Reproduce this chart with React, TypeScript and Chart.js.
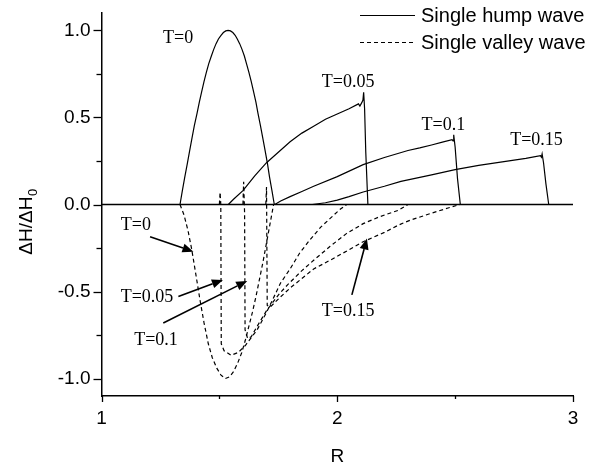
import React, { useEffect, useRef } from "react";
import { Chart, registerables } from "chart.js";

Chart.register(...registerables);

// ---- data: [R, ΔH/ΔH0] ----
const humpT0: number[][] = [
  [1.333, 0], [1.343, 0.08], [1.353, 0.156], [1.364, 0.235], [1.374, 0.31], [1.384, 0.383],
  [1.394, 0.454], [1.405, 0.522], [1.415, 0.588], [1.425, 0.649], [1.435, 0.707], [1.445, 0.76],
  [1.455, 0.809], [1.466, 0.853], [1.476, 0.891], [1.486, 0.924], [1.496, 0.951], [1.507, 0.972],
  [1.517, 0.988], [1.527, 0.997], [1.537, 1.0], [1.547, 0.997], [1.557, 0.988], [1.567, 0.972],
  [1.576, 0.951], [1.586, 0.924], [1.596, 0.891], [1.606, 0.853], [1.615, 0.809], [1.625, 0.76],
  [1.635, 0.707], [1.645, 0.649], [1.655, 0.588], [1.664, 0.522], [1.674, 0.454], [1.684, 0.383],
  [1.694, 0.309], [1.704, 0.235], [1.713, 0.156], [1.723, 0.08], [1.733, 0],
];
const humpT005: number[][] = [
  [1.538, 0], [1.56, 0.03], [1.6, 0.08], [1.65, 0.165], [1.7, 0.24], [1.75, 0.3], [1.8, 0.36],
  [1.85, 0.41], [1.9, 0.45], [1.95, 0.49], [2.0, 0.52], [2.05, 0.55], [2.09, 0.578], [2.096, 0.565],
  [2.104, 0.585], [2.109, 0.6], [2.112, 0.645], [2.116, 0.55], [2.121, 0.3], [2.13, 0],
];
const humpT01: number[][] = [
  [1.735, 0], [1.76, 0.02], [1.8, 0.045], [1.85, 0.075], [1.9, 0.105], [2.0, 0.16], [2.11, 0.229],
  [2.2, 0.27], [2.3, 0.31], [2.35, 0.325], [2.4, 0.342], [2.45, 0.36], [2.487, 0.372], [2.491, 0.365],
  [2.494, 0.4], [2.5, 0.33], [2.51, 0.15], [2.522, 0],
];
const humpT015: number[][] = [
  [1.894, 0], [1.95, 0.01], [2.0, 0.025], [2.05, 0.045], [2.11, 0.072], [2.2, 0.105], [2.27, 0.133],
  [2.4, 0.17], [2.5, 0.2], [2.6, 0.225], [2.7, 0.245], [2.8, 0.265], [2.862, 0.28], [2.866, 0.272],
  [2.869, 0.29], [2.875, 0.24], [2.885, 0.12], [2.897, 0],
];
const valleyT0: number[][] = [
  [1.333, 0], [1.35, -0.06], [1.367, -0.15], [1.383, -0.26], [1.4, -0.4], [1.418, -0.55],
  [1.435, -0.68], [1.453, -0.8], [1.47, -0.88], [1.489, -0.94], [1.507, -0.98], [1.525, -1.0],
  [1.543, -0.99], [1.56, -0.96], [1.578, -0.91], [1.595, -0.85], [1.61, -0.78], [1.625, -0.7],
  [1.64, -0.62], [1.655, -0.53], [1.67, -0.43], [1.685, -0.33], [1.7, -0.22], [1.715, -0.11], [1.73, 0],
];
const valleyT005: number[][] = [
  [1.5, 0], [1.503, 0.07], [1.506, 0], [1.508, -0.8], [1.52, -0.84], [1.55, -0.866], [1.58, -0.85],
  [1.61, -0.81], [1.66, -0.72], [1.7, -0.62], [1.76, -0.45], [1.8, -0.37], [1.84, -0.28], [1.88, -0.21],
  [1.93, -0.13], [1.97, -0.08], [2.01, -0.03], [2.04, 0],
];
const valleyT01: number[][] = [
  [1.6, 0], [1.603, 0.13], [1.607, -0.05], [1.609, -0.72], [1.62, -0.77], [1.635, -0.76], [1.66, -0.7],
  [1.7, -0.61], [1.75, -0.52], [1.79, -0.46], [1.85, -0.38], [1.9, -0.32], [1.97, -0.24], [2.04, -0.166],
  [2.11, -0.11], [2.18, -0.07], [2.26, -0.033], [2.3, 0],
];
const valleyT015: number[][] = [
  [1.697, 0], [1.7, 0.1], [1.703, -0.58], [1.715, -0.59], [1.76, -0.53], [1.8, -0.48], [1.9, -0.37],
  [1.97, -0.32], [2.05, -0.26], [2.11, -0.214], [2.2, -0.16], [2.26, -0.118], [2.31, -0.09],
  [2.4, -0.05], [2.47, -0.02], [2.52, 0],
];

const xTickVals = [1, 2, 3];
const xMinorVals = [1.5, 2.5];
const yTickVals = [-1, -0.5, 0, 0.5, 1];
const yMinorVals = [-0.75, -0.25, 0.25, 0.75];

const legendLabels = ["Single hump wave", "Single valley wave"];

// plain text labels near the hump tops: [R, value, text]
const humpLabels: [number, number, string][] = [
  [1.325, 0.952, "T=0"],
  [2.046, 0.7, "T=0.05"],
  [2.45, 0.453, "T=0.1"],
  [2.845, 0.368, "T=0.15"],
];
// valley labels with arrows: [textR, textV, text, fromR, fromV, toR, toV]
const valleyLabels: [number, number, string, number, number, number, number][] = [
  [1.146, -0.12, "T=0", 1.206, -0.185, 1.39, -0.271],
  [1.193, -0.53, "T=0.05", 1.326, -0.529, 1.515, -0.433],
  [1.231, -0.78, "T=0.1", 1.262, -0.681, 1.618, -0.439],
  [2.046, -0.611, "T=0.15", 2.062, -0.519, 2.126, -0.195],
];

const SANS = "'Liberation Sans', Arial, sans-serif";
const SERIF = "'Liberation Serif', 'Times New Roman', serif";

const toPts = (a: number[][]) => a.map(([x, y]) => ({ x, y }));

function arrow(ctx: CanvasRenderingContext2D, x1: number, y1: number, x2: number, y2: number) {
  const ang = Math.atan2(y2 - y1, x2 - x1);
  const hl = 11, hw = 4.5;
  const bx = x2 - hl * Math.cos(ang), by = y2 - hl * Math.sin(ang);
  ctx.beginPath();
  ctx.moveTo(x1, y1);
  ctx.lineTo(bx, by);
  ctx.lineWidth = 1.6;
  ctx.strokeStyle = "#000";
  ctx.stroke();
  ctx.beginPath();
  ctx.moveTo(x2, y2);
  ctx.lineTo(bx + hw * Math.sin(ang), by - hw * Math.cos(ang));
  ctx.lineTo(bx - hw * Math.sin(ang), by + hw * Math.cos(ang));
  ctx.closePath();
  ctx.fillStyle = "#000";
  ctx.fill();
}

const decorPlugin = {
  id: "decor",
  beforeDatasetsDraw(chart: any) {
    const { ctx, scales } = chart;
    const xs = scales.x, ys = scales.y;
    const y0 = ys.getPixelForValue(0);
    ctx.save();
    ctx.strokeStyle = "#000";
    ctx.lineWidth = 1.5;
    ctx.beginPath();
    ctx.moveTo(xs.getPixelForValue(1), y0);
    ctx.lineTo(xs.getPixelForValue(3), y0);
    ctx.stroke();
    ctx.restore();
  },
  afterDraw(chart: any) {
    const { ctx, scales, chartArea } = chart;
    const xs = scales.x, ys = scales.y;
    ctx.save();
    ctx.strokeStyle = "#000";
    ctx.lineWidth = 1.3;
    const drawX = (v: number, len: number) => {
      const p = Math.round(xs.getPixelForValue(v)) + 0.5;
      ctx.beginPath();
      ctx.moveTo(p, chartArea.bottom);
      ctx.lineTo(p, chartArea.bottom + len);
      ctx.stroke();
    };
    xTickVals.forEach((v) => drawX(v, 6));
    xMinorVals.forEach((v) => drawX(v, 3));
    const drawY = (v: number, len: number) => {
      const p = Math.round(ys.getPixelForValue(v)) + 0.5;
      ctx.beginPath();
      ctx.moveTo(chartArea.left - len, p);
      ctx.lineTo(chartArea.left, p);
      ctx.stroke();
    };
    yTickVals.forEach((v) => drawY(v, 8));
    yMinorVals.forEach((v) => drawY(v, 5));

    // y title with subscript
    ctx.fillStyle = "#000";
    ctx.translate(27, 222);
    ctx.rotate(-Math.PI / 2);
    ctx.font = `19px ${SANS}`;
    const main = "ΔH/ΔH";
    const mw = ctx.measureText(main).width;
    ctx.font = `13px ${SANS}`;
    const sw = ctx.measureText("0").width;
    const total = mw + sw;
    ctx.textBaseline = "middle";
    ctx.textAlign = "left";
    ctx.font = `19px ${SANS}`;
    ctx.fillText(main, -total / 2, 0);
    ctx.font = `13px ${SANS}`;
    ctx.fillText("0", -total / 2 + mw + 0.5, 6);
    ctx.setTransform(1, 0, 0, 1, 0, 0);

    // annotations
    ctx.font = `18px ${SERIF}`;
    ctx.textAlign = "center";
    ctx.textBaseline = "middle";
    humpLabels.forEach(([r, v, t]) => {
      ctx.fillText(t, xs.getPixelForValue(r), ys.getPixelForValue(v));
    });
    valleyLabels.forEach(([r, v, t, fr, fv, tr, tv]) => {
      ctx.fillText(t, xs.getPixelForValue(r), ys.getPixelForValue(v));
      arrow(ctx, xs.getPixelForValue(fr), ys.getPixelForValue(fv), xs.getPixelForValue(tr), ys.getPixelForValue(tv));
    });

    // legend
    ctx.font = `20px ${SANS}`;
    ctx.textAlign = "left";
    ctx.textBaseline = "middle";
    const rows = [15, 42];
    rows.forEach((yy, i) => {
      ctx.beginPath();
      ctx.lineWidth = 1.2;
      ctx.setLineDash(i === 0 ? [] : [4, 3]);
      ctx.moveTo(360, yy + 0.5);
      ctx.lineTo(415, yy + 0.5);
      ctx.stroke();
      ctx.setLineDash([]);
      ctx.fillText(legendLabels[i], 421, yy + 1);
    });
    ctx.restore();
  },
};

export default function App() {
  const ref = useRef<HTMLCanvasElement | null>(null);
  useEffect(() => {
    if (!ref.current) return;
    const line = (data: number[][], dashed: boolean) => ({
      data: toPts(data),
      showLine: true,
      borderColor: "#000",
      backgroundColor: "#000",
      borderWidth: 1.2,
      borderDash: dashed ? [4, 3] : [],
      pointRadius: 0,
      tension: 0,
      fill: false,
    });
    const chart = new Chart(ref.current, {
      type: "scatter",
      data: {
        datasets: [
          line(humpT0, false),
          line(humpT005, false),
          line(humpT01, false),
          line(humpT015, false),
          line(valleyT0, true),
          line(valleyT005, true),
          line(valleyT01, true),
          line(valleyT015, true),
        ],
      },
      options: {
        animation: false,
        responsive: false,
        devicePixelRatio: 1,
        layout: { padding: { top: 13, right: 40, left: 0, bottom: 0 } },
        plugins: { legend: { display: false }, tooltip: { enabled: false } },
        scales: {
          x: {
            type: "linear",
            min: 1,
            max: 3,
            afterBuildTicks: (a: any) => {
              a.ticks = xTickVals.map((v) => ({ value: v }));
            },
            afterFit: (a: any) => {
              a.height = 72;
              a.paddingLeft = 0;
              a.paddingRight = 0;
            },
            ticks: {
              autoSkip: false,
              maxRotation: 0,
              padding: 11,
              color: "#000",
              font: { family: SANS, size: 19 },
              callback: (v: any) => String(v),
            },
            grid: { display: false, drawTicks: false },
            border: { display: true, color: "#000", width: 1.5 },
            title: {
              display: true,
              text: "R",
              color: "#000",
              font: { family: SANS, size: 19 },
              padding: { top: 0, bottom: 0 },
            },
          },
          y: {
            type: "linear",
            min: -1.1,
            max: 1.1,
            afterBuildTicks: (a: any) => {
              a.ticks = yTickVals.map((v) => ({ value: v }));
            },
            afterFit: (a: any) => {
              a.width = 101.5;
              a.paddingTop = 0;
              a.paddingBottom = 0;
            },
            ticks: {
              autoSkip: false,
              padding: 11,
              color: "#000",
              font: { family: SANS, size: 19 },
              callback: (v: any) => Number(v).toFixed(1),
            },
            grid: { display: false, drawTicks: false },
            border: { display: true, color: "#000", width: 1.5 },
          },
        },
      },
      plugins: [decorPlugin],
    } as any);
    return () => chart.destroy();
  }, []);
  return (
    <div style={{ position: "absolute", left: 0, top: 0, width: 613, height: 468, background: "#fff" }}>
      <canvas ref={ref} width={613} height={468} />
    </div>
  );
}
